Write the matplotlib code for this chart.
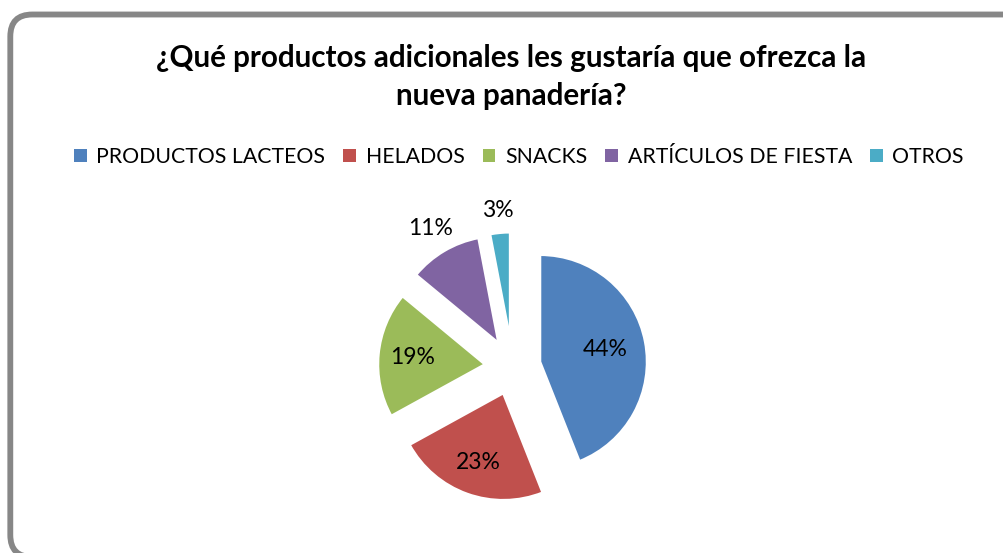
import matplotlib
matplotlib.use("Agg")
import matplotlib.pyplot as plt
import numpy as np
from matplotlib.patches import FancyBboxPatch, Patch
from matplotlib.transforms import IdentityTransform

plt.rcParams["font.family"] = ["Lato", "DejaVu Sans"]

# Data
categories = ["PRODUCTOS LACTEOS", "HELADOS", "SNACKS", "ARTÍCULOS DE FIESTA", "OTROS"]
percentages = [44, 23, 19, 11, 3]
colors = ["#4F81BD", "#C0504D", "#9BBB59", "#8064A2", "#4BACC6"]
title = "¿Qué productos adicionales les gustaría que ofrezca la\nnueva panadería?"

W, H = 1004, 553
fig = plt.figure(figsize=(W / 100, H / 100), dpi=100)
fig.patch.set_facecolor("white")

# Rounded chart frame, drawn in pixel coordinates (origin bottom-left)
left, right, top, bottom = 10.3, 1040, 14.5, 557
frame = FancyBboxPatch((left, H - bottom), right - left, bottom - top,
                       boxstyle="round,pad=0,rounding_size=22",
                       transform=IdentityTransform(), facecolor="none",
                       edgecolor="#878787", linewidth=4.2,
                       clip_on=False, zorder=-1)
fig.patches.append(frame)

# Pie axes: centre and radius in pixels
cx, cy, r = 512.7, 367, 107
L = 1.6
S = r * 2 * L
ax = fig.add_axes([(cx - S / 2) / W, (H - cy - S / 2) / H, S / W, S / H])

wedges, _ = ax.pie(percentages, colors=colors, startangle=90, counterclock=False,
                   explode=[0.26] * len(percentages), radius=1,
                   wedgeprops=dict(edgecolor="white", linewidth=1.8))
ax.set_xlim(-L, L)
ax.set_ylim(-L, L)
ax.set_aspect("equal")
ax.axis("off")

label_dist = [0.62, 0.69, 0.68, 1.24, 1.21]
for w, p, d in zip(wedges, percentages, label_dist):
    ang = np.deg2rad((w.theta1 + w.theta2) / 2)
    x = w.center[0] + d * np.cos(ang)
    y = w.center[1] + d * np.sin(ang)
    ax.text(x, y, f"{p}%", ha="center", va="center", fontsize=16.5, color="black")

# Title
fig.text(511 / W, 1 - 77 / H, title, ha="center", va="center", fontsize=21.3,
         fontweight="bold", linespacing=1.45)

# Legend
handles = [Patch(facecolor=c, edgecolor="none") for c in colors]
fig.legend(handles, categories, loc="center", bbox_to_anchor=(519 / W, 1 - 157 / H),
           ncol=5, frameon=False, fontsize=15.3, handlelength=0.6, handleheight=0.6,
           handletextpad=0.45, columnspacing=0.85, borderaxespad=0)

fig.savefig("out.png", dpi=100)
